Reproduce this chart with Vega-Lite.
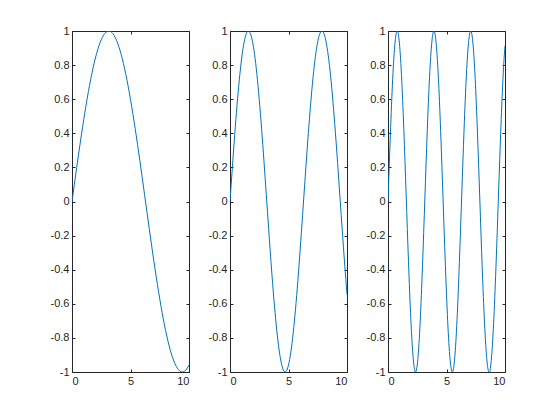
{
  "$schema": "https://vega.github.io/schema/vega-lite/v6.json",
  "padding": {"left": 49, "top": 24, "right": 5, "bottom": 5},
  "background": "white",
  "bounds": "flush",
  "spacing": 41,
  "config": {
    "font": "Liberation Sans",
    "view": {"stroke": "#262626", "strokeWidth": 1},
    "axis": {
      "domain": false, "grid": false, "title": null,
      "tickSize": -3, "tickColor": "#262626", "tickWidth": 1,
      "labelColor": "#262626", "labelFontSize": 11, "labelPadding": 6,
      "labelFont": "Liberation Sans"
    },
    "line": {"color": "#0072BD", "strokeWidth": 1, "interpolate": "natural"}
  },
  "datasets": {
    "a": [
      {"x":0,"y":0},{"x":0.2,"y":0.0998},{"x":0.4,"y":0.1987},{"x":0.6,"y":0.2955},{"x":0.8,"y":0.3894},{"x":1,"y":0.4794},{"x":1.2,"y":0.5646},{"x":1.4,"y":0.6442},{"x":1.6,"y":0.7174},{"x":1.8,"y":0.7833},{"x":2,"y":0.8415},{"x":2.2,"y":0.8912},{"x":2.4,"y":0.932},{"x":2.6,"y":0.9636},{"x":2.8,"y":0.9854},{"x":3,"y":0.9975},{"x":3.2,"y":0.9996},{"x":3.4,"y":0.9917},{"x":3.6,"y":0.9738},{"x":3.8,"y":0.9463},{"x":4,"y":0.9093},{"x":4.2,"y":0.8632},{"x":4.4,"y":0.8085},{"x":4.6,"y":0.7457},{"x":4.8,"y":0.6755},{"x":5,"y":0.5985},{"x":5.2,"y":0.5155},{"x":5.4,"y":0.4274},{"x":5.6,"y":0.335},{"x":5.8,"y":0.2392},{"x":6,"y":0.1411},{"x":6.2,"y":0.0416},{"x":6.4,"y":-0.0584},{"x":6.6,"y":-0.1577},{"x":6.8,"y":-0.2555},{"x":7,"y":-0.3508},{"x":7.2,"y":-0.4425},{"x":7.4,"y":-0.5298},{"x":7.6,"y":-0.6119},{"x":7.8,"y":-0.6878},{"x":8,"y":-0.7568},{"x":8.2,"y":-0.8183},{"x":8.4,"y":-0.8716},{"x":8.6,"y":-0.9162},{"x":8.8,"y":-0.9516},{"x":9,"y":-0.9775},{"x":9.2,"y":-0.9937},{"x":9.4,"y":-0.9999},{"x":9.6,"y":-0.9962},{"x":9.8,"y":-0.9825},{"x":10,"y":-0.9589}
    ],
    "b": [
      {"x":0,"y":0},{"x":0.1,"y":0.0998},{"x":0.2,"y":0.1987},{"x":0.3,"y":0.2955},{"x":0.4,"y":0.3894},{"x":0.5,"y":0.4794},{"x":0.6,"y":0.5646},{"x":0.7,"y":0.6442},{"x":0.8,"y":0.7174},{"x":0.9,"y":0.7833},{"x":1,"y":0.8415},{"x":1.1,"y":0.8912},{"x":1.2,"y":0.932},{"x":1.3,"y":0.9636},{"x":1.4,"y":0.9854},{"x":1.5,"y":0.9975},{"x":1.6,"y":0.9996},{"x":1.7,"y":0.9917},{"x":1.8,"y":0.9738},{"x":1.9,"y":0.9463},{"x":2,"y":0.9093},{"x":2.1,"y":0.8632},{"x":2.2,"y":0.8085},{"x":2.3,"y":0.7457},{"x":2.4,"y":0.6755},{"x":2.5,"y":0.5985},{"x":2.6,"y":0.5155},{"x":2.7,"y":0.4274},{"x":2.8,"y":0.335},{"x":2.9,"y":0.2392},{"x":3,"y":0.1411},{"x":3.1,"y":0.0416},{"x":3.2,"y":-0.0584},{"x":3.3,"y":-0.1577},{"x":3.4,"y":-0.2555},{"x":3.5,"y":-0.3508},{"x":3.6,"y":-0.4425},{"x":3.7,"y":-0.5298},{"x":3.8,"y":-0.6119},{"x":3.9,"y":-0.6878},{"x":4,"y":-0.7568},{"x":4.1,"y":-0.8183},{"x":4.2,"y":-0.8716},{"x":4.3,"y":-0.9162},{"x":4.4,"y":-0.9516},{"x":4.5,"y":-0.9775},{"x":4.6,"y":-0.9937},{"x":4.7,"y":-0.9999},{"x":4.8,"y":-0.9962},{"x":4.9,"y":-0.9825},{"x":5,"y":-0.9589},{"x":5.1,"y":-0.9258},{"x":5.2,"y":-0.8835},{"x":5.3,"y":-0.8323},{"x":5.4,"y":-0.7728},{"x":5.5,"y":-0.7055},{"x":5.6,"y":-0.6313},{"x":5.7,"y":-0.5507},{"x":5.8,"y":-0.4646},{"x":5.9,"y":-0.3739},{"x":6,"y":-0.2794},{"x":6.1,"y":-0.1822},{"x":6.2,"y":-0.0831},{"x":6.3,"y":0.0168},{"x":6.4,"y":0.1165},{"x":6.5,"y":0.2151},{"x":6.6,"y":0.3115},{"x":6.7,"y":0.4048},{"x":6.8,"y":0.4941},{"x":6.9,"y":0.5784},{"x":7,"y":0.657},{"x":7.1,"y":0.729},{"x":7.2,"y":0.7937},{"x":7.3,"y":0.8504},{"x":7.4,"y":0.8987},{"x":7.5,"y":0.938},{"x":7.6,"y":0.9679},{"x":7.7,"y":0.9882},{"x":7.8,"y":0.9985},{"x":7.9,"y":0.9989},{"x":8,"y":0.9894},{"x":8.1,"y":0.9699},{"x":8.2,"y":0.9407},{"x":8.3,"y":0.9022},{"x":8.4,"y":0.8546},{"x":8.5,"y":0.7985},{"x":8.6,"y":0.7344},{"x":8.7,"y":0.663},{"x":8.8,"y":0.5849},{"x":8.9,"y":0.501},{"x":9,"y":0.4121},{"x":9.1,"y":0.3191},{"x":9.2,"y":0.2229},{"x":9.3,"y":0.1245},{"x":9.4,"y":0.0248},{"x":9.5,"y":-0.0752},{"x":9.6,"y":-0.1743},{"x":9.7,"y":-0.2718},{"x":9.8,"y":-0.3665},{"x":9.9,"y":-0.4575},{"x":10,"y":-0.544}
    ],
    "c": [
      {"x":0,"y":0},{"x":0.1,"y":0.1987},{"x":0.2,"y":0.3894},{"x":0.3,"y":0.5646},{"x":0.4,"y":0.7174},{"x":0.5,"y":0.8415},{"x":0.6,"y":0.932},{"x":0.7,"y":0.9854},{"x":0.8,"y":0.9996},{"x":0.9,"y":0.9738},{"x":1,"y":0.9093},{"x":1.1,"y":0.8085},{"x":1.2,"y":0.6755},{"x":1.3,"y":0.5155},{"x":1.4,"y":0.335},{"x":1.5,"y":0.1411},{"x":1.6,"y":-0.0584},{"x":1.7,"y":-0.2555},{"x":1.8,"y":-0.4425},{"x":1.9,"y":-0.6119},{"x":2,"y":-0.7568},{"x":2.1,"y":-0.8716},{"x":2.2,"y":-0.9516},{"x":2.3,"y":-0.9937},{"x":2.4,"y":-0.9962},{"x":2.5,"y":-0.9589},{"x":2.6,"y":-0.8835},{"x":2.7,"y":-0.7728},{"x":2.8,"y":-0.6313},{"x":2.9,"y":-0.4646},{"x":3,"y":-0.2794},{"x":3.1,"y":-0.0831},{"x":3.2,"y":0.1165},{"x":3.3,"y":0.3115},{"x":3.4,"y":0.4941},{"x":3.5,"y":0.657},{"x":3.6,"y":0.7937},{"x":3.7,"y":0.8987},{"x":3.8,"y":0.9679},{"x":3.9,"y":0.9985},{"x":4,"y":0.9894},{"x":4.1,"y":0.9407},{"x":4.2,"y":0.8546},{"x":4.3,"y":0.7344},{"x":4.4,"y":0.5849},{"x":4.5,"y":0.4121},{"x":4.6,"y":0.2229},{"x":4.7,"y":0.0248},{"x":4.8,"y":-0.1743},{"x":4.9,"y":-0.3665},{"x":5,"y":-0.544},{"x":5.1,"y":-0.6999},{"x":5.2,"y":-0.8278},{"x":5.3,"y":-0.9227},{"x":5.4,"y":-0.9809},{"x":5.5,"y":-1},{"x":5.6,"y":-0.9791},{"x":5.7,"y":-0.9193},{"x":5.8,"y":-0.8228},{"x":5.9,"y":-0.6936},{"x":6,"y":-0.5366},{"x":6.1,"y":-0.3583},{"x":6.2,"y":-0.1656},{"x":6.3,"y":0.0336},{"x":6.4,"y":0.2315},{"x":6.5,"y":0.4202},{"x":6.6,"y":0.592},{"x":6.7,"y":0.7404},{"x":6.8,"y":0.8592},{"x":6.9,"y":0.9437},{"x":7,"y":0.9906},{"x":7.1,"y":0.9981},{"x":7.2,"y":0.9656},{"x":7.3,"y":0.8948},{"x":7.4,"y":0.7883},{"x":7.5,"y":0.6503},{"x":7.6,"y":0.4864},{"x":7.7,"y":0.3032},{"x":7.8,"y":0.1078},{"x":7.9,"y":-0.0919},{"x":8,"y":-0.2878},{"x":8.1,"y":-0.4724},{"x":8.2,"y":-0.6381},{"x":8.3,"y":-0.7783},{"x":8.4,"y":-0.8876},{"x":8.5,"y":-0.9614},{"x":8.6,"y":-0.9969},{"x":8.7,"y":-0.9986},{"x":8.8,"y":-0.9488},{"x":8.9,"y":-0.8673},{"x":9,"y":-0.751},{"x":9.1,"y":-0.6049},{"x":9.2,"y":-0.4346},{"x":9.3,"y":-0.247},{"x":9.4,"y":-0.0496},{"x":9.5,"y":0.1499},{"x":9.6,"y":0.3433},{"x":9.7,"y":0.523},{"x":9.8,"y":0.6819},{"x":9.9,"y":0.8136},{"x":10,"y":0.9129}
    ]
  },
  "hconcat": [
    {
      "width": 117, "height": 341,
      "data": {"name": "a"},
      "resolve": {"axis": {"x": "independent", "y": "independent"}},
      "layer": [
        {"mark": {"type": "line", "clip": true},
         "encoding": {
           "x": {"field": "x", "type": "quantitative", "scale": {"domain": [0, 10], "nice": false, "zero": false},
                 "axis": {"orient": "bottom", "values": [0, 5, 10], "labelExpr": "'' + datum.value"}},
           "y": {"field": "y", "type": "quantitative", "scale": {"domain": [-1, 1], "nice": false, "zero": false},
                 "axis": {"orient": "left", "values": [-1, -0.8, -0.6, -0.4, -0.2, 0, 0.2, 0.4, 0.6, 0.8, 1], "labelExpr": "'' + datum.value"}}}},
        {"mark": {"type": "line", "opacity": 0},
         "encoding": {
           "x": {"field": "x", "type": "quantitative", "axis": {"orient": "top", "values": [0, 5, 10], "labels": false}},
           "y": {"field": "y", "type": "quantitative", "axis": {"orient": "right", "values": [-1, -0.8, -0.6, -0.4, -0.2, 0, 0.2, 0.4, 0.6, 0.8, 1], "labels": false}}}}
      ]
    },
    {
      "width": 117, "height": 341,
      "data": {"name": "b"},
      "resolve": {"axis": {"x": "independent", "y": "independent"}},
      "layer": [
        {"mark": {"type": "line", "clip": true},
         "encoding": {
           "x": {"field": "x", "type": "quantitative", "scale": {"domain": [0, 10], "nice": false, "zero": false},
                 "axis": {"orient": "bottom", "values": [0, 5, 10], "labelExpr": "'' + datum.value"}},
           "y": {"field": "y", "type": "quantitative", "scale": {"domain": [-1, 1], "nice": false, "zero": false},
                 "axis": {"orient": "left", "values": [-1, -0.8, -0.6, -0.4, -0.2, 0, 0.2, 0.4, 0.6, 0.8, 1], "labelExpr": "'' + datum.value"}}}},
        {"mark": {"type": "line", "opacity": 0},
         "encoding": {
           "x": {"field": "x", "type": "quantitative", "axis": {"orient": "top", "values": [0, 5, 10], "labels": false}},
           "y": {"field": "y", "type": "quantitative", "axis": {"orient": "right", "values": [-1, -0.8, -0.6, -0.4, -0.2, 0, 0.2, 0.4, 0.6, 0.8, 1], "labels": false}}}}
      ]
    },
    {
      "width": 117, "height": 341,
      "data": {"name": "c"},
      "resolve": {"axis": {"x": "independent", "y": "independent"}},
      "layer": [
        {"mark": {"type": "line", "clip": true},
         "encoding": {
           "x": {"field": "x", "type": "quantitative", "scale": {"domain": [0, 10], "nice": false, "zero": false},
                 "axis": {"orient": "bottom", "values": [0, 5, 10], "labelExpr": "'' + datum.value"}},
           "y": {"field": "y", "type": "quantitative", "scale": {"domain": [-1, 1], "nice": false, "zero": false},
                 "axis": {"orient": "left", "values": [-1, -0.8, -0.6, -0.4, -0.2, 0, 0.2, 0.4, 0.6, 0.8, 1], "labelExpr": "'' + datum.value"}}}},
        {"mark": {"type": "line", "opacity": 0},
         "encoding": {
           "x": {"field": "x", "type": "quantitative", "axis": {"orient": "top", "values": [0, 5, 10], "labels": false}},
           "y": {"field": "y", "type": "quantitative", "axis": {"orient": "right", "values": [-1, -0.8, -0.6, -0.4, -0.2, 0, 0.2, 0.4, 0.6, 0.8, 1], "labels": false}}}}
      ]
    }
  ]
}
